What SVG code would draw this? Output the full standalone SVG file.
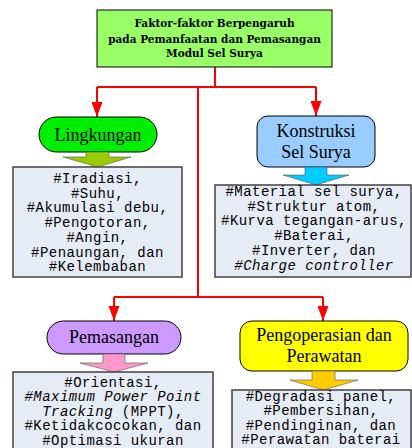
<svg xmlns="http://www.w3.org/2000/svg" width="412" height="448" viewBox="0 0 412 448">
<style>
.conn{fill:none;stroke:#ff0000;stroke-width:2}
.node{stroke:#000;stroke-width:1}
.lbl{font-family:"Liberation Serif","Times New Roman",serif;font-size:18px;fill:#000;text-anchor:middle}
.title{font-family:"DejaVu Serif",serif;font-weight:bold;font-size:10.5px;fill:#000;text-anchor:middle}
.box{fill:#e6ecf6;stroke:#404040;stroke-width:1.5}
.item{font-family:"Liberation Mono","Courier New",monospace;font-size:14px;letter-spacing:0.45px;fill:#000;text-anchor:middle}
.fat{stroke:#555;stroke-width:0.6}
.it{font-style:italic}
</style>
<defs>
<marker id="ah" viewBox="0 0 15 11" refX="15" refY="5.5" markerWidth="15" markerHeight="11" markerUnits="userSpaceOnUse" orient="auto">
<path d="M0,0 L15,5.5 L0,11 z" fill="#ff0000"/>
</marker>
</defs>

<g id="connectors">
<path class="conn" d="M215,67 V87"/>
<path class="conn" d="M97,87 H316"/>
<path class="conn" d="M97,87 V117" marker-end="url(#ah)"/>
<path class="conn" d="M316,87 V116" marker-end="url(#ah)"/>
<path class="conn" d="M198,87 V297"/>
<path class="conn" d="M114,297 H323"/>
<path class="conn" d="M114,297 V321" marker-end="url(#ah)"/>
<path class="conn" d="M323,297 V321" marker-end="url(#ah)"/>
</g>

<g id="title">
<rect class="node" x="97" y="10" width="235" height="57" fill="#99ff66"/>
<text class="title" x="214.5" y="27">Faktor-faktor Berpengaruh</text>
<text class="title" x="214.5" y="42.5">pada Pemanfaatan dan Pemasangan</text>
<text class="title" x="214.5" y="57">Modul Sel Surya</text>
</g>

<g id="lingkungan">
<rect class="node" x="39" y="117" width="118" height="35" rx="17.5" fill="#00ee00"/>
<text class="lbl" x="98" y="140.5">Lingkungan</text>
</g>
<g id="lingkungan-arrow">
<polygon class="fat" points="86,152 109,152 109,157 131,157 97.5,167 63,157 86,157" fill="#99cc00"/>
</g>
<g id="lingkungan-items">
<rect class="box" x="13" y="167" width="169" height="110"/>
<text class="item" x="97.5" y="183">#Iradiasi,</text>
<text class="item" x="97.5" y="197.7">#Suhu,</text>
<text class="item" x="97.5" y="212.4">#Akumulasi debu,</text>
<text class="item" x="97.5" y="227.1">#Pengotoran,</text>
<text class="item" x="97.5" y="241.8">#Angin,</text>
<text class="item" x="97.5" y="256.5">#Penaungan, dan</text>
<text class="item" x="97.5" y="271.2">#Kelembaban</text>
</g>

<g id="konstruksi">
<rect class="node" x="257" y="116" width="118" height="51" rx="11" fill="#99ccff"/>
<text class="lbl" x="316" y="137">Konstruksi</text>
<text class="lbl" x="316" y="158">Sel Surya</text>
</g>
<g id="konstruksi-arrow">
<polygon class="fat" points="305,167 327,167 327,175 349,175 316,185 283,175 305,175" fill="#00ccff"/>
</g>
<g id="konstruksi-items">
<rect class="box" x="215" y="185" width="196" height="92"/>
<text class="item" x="314" y="196">#Material sel surya,</text>
<text class="item" x="314" y="210.7">#Struktur atom,</text>
<text class="item" x="314" y="225.4">#Kurva tegangan-arus,</text>
<text class="item" x="314" y="240.1">#Baterai,</text>
<text class="item" x="314" y="254.8">#Inverter, dan</text>
<text class="item it" x="314" y="269.5">#Charge controller</text>
</g>

<g id="pemasangan">
<rect class="node" x="47" y="321" width="134" height="33" rx="16.5" fill="#cc99ff"/>
<text class="lbl" x="114" y="343">Pemasangan</text>
</g>
<g id="pemasangan-arrow">
<polygon class="fat" points="103,354 125,354 125,363 148,363 114,372 80,363 103,363" fill="#ff99cc"/>
</g>
<g id="pemasangan-items">
<rect class="box" x="13" y="372" width="200" height="90"/>
<text class="item" x="113" y="386.5">#Orientasi,</text>
<text class="item it" x="113" y="401">#Maximum Power Point</text>
<text class="item" x="113" y="415.5"><tspan class="it">Tracking</tspan> (MPPT),</text>
<text class="item" x="113" y="430">#Ketidakcocokan, dan</text>
<text class="item" x="113" y="444.5">#Optimasi ukuran</text>
</g>

<g id="pengoperasian">
<rect class="node" x="240" y="321" width="168" height="50" rx="12" fill="#ffff00"/>
<text class="lbl" x="324" y="340.5">Pengoperasian dan</text>
<text class="lbl" x="324" y="361.5">Perawatan</text>
</g>
<g id="pengoperasian-arrow">
<polygon class="fat" points="312,371 335,371 335,380 358,380 323.5,390 290,380 312,380" fill="#ffcc00"/>
</g>
<g id="pengoperasian-items">
<rect class="box" x="232" y="390" width="179" height="72"/>
<text class="item" x="321" y="400.8">#Degradasi panel,</text>
<text class="item" x="321" y="415.3">#Pembersihan,</text>
<text class="item" x="321" y="429.8">#Pendinginan, dan</text>
<text class="item" x="321" y="444.3">#Perawatan baterai</text>
</g>
</svg>
